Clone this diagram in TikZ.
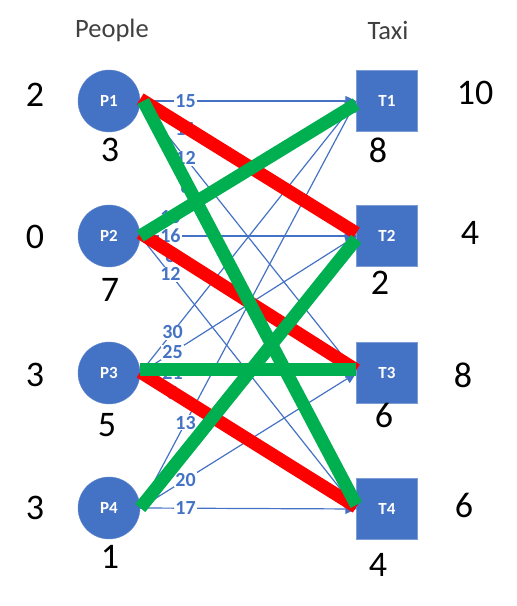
\documentclass[tikz,border=0pt]{standalone}
\usepackage{fontspec}
\setmainfont{Carlito}
\usetikzlibrary{arrows.meta}
\definecolor{taxiBlue}{HTML}{4472C4}
\definecolor{matchRed}{HTML}{FF0000}
\definecolor{matchGreen}{HTML}{00B050}

\begin{document}
\begin{tikzpicture}[x=1pt, y=1pt,
    person/.style={circle, fill=taxiBlue, draw=taxiBlue!80!white, minimum size=62pt, inner sep=0pt, text=white, font=\bfseries\fontsize{17}{17}\selectfont},
    taxi/.style={rectangle, fill=taxiBlue, draw=taxiBlue!70!white, minimum size=61pt, inner sep=0pt, text=white, font=\bfseries\fontsize{17}{17}\selectfont},
    cost/.style={draw=taxiBlue, line width=1.2pt, -{Triangle[length=11pt,width=10pt]}},
    costlabel/.style={fill=white, inner sep=1pt, text=taxiBlue, font=\bfseries\fontsize{20}{20}\selectfont},
    bignum/.style={font=\fontsize{36}{36}\selectfont},
    redpick/.style={draw=matchRed, line width=13pt},
    greenpick/.style={draw=matchGreen, line width=13pt}]
            \useasboundingbox (0,0) rectangle (517,606);
            \node[font=\fontsize{26.5}{26.5}\selectfont, text=black!75] (people) at (112,576) {People};
            \node[font=\fontsize{26.5}{26.5}\selectfont, text=black!75] (taxis) at (388,576) {Taxi};
            \node[person] (P1) at (109,505) {P1};
            \node[person] (P2) at (109,370) {P2};
            \node[person] (P3) at (109,233) {P3};
            \node[person] (P4) at (109,98) {P4};
            \node[taxi] (T1) at (387,505) {T1};
            \node[taxi] (T2) at (387,370) {T2};
            \node[taxi] (T3) at (387,233) {T3};
            \node[taxi] (T4) at (387,97) {T4};
            \draw[cost] (P1.east) -- node[costlabel, pos=0.21] {15} (T1.west);
            \draw[cost] (P1.east) -- node[costlabel, pos=0.21] {11} (T2.west);
            \draw[cost] (P1.east) -- node[costlabel, pos=0.21] {12} (T3.west);
            \draw[cost] (P1.east) -- node[costlabel, pos=0.21] {8} (T4.west);
            \draw[cost] (P2.east) -- node[costlabel, pos=0.14] {10} (T1.west);
            \draw[cost] (P2.east) -- node[costlabel, pos=0.14] {16} (T2.west);
            \draw[cost] (P2.east) -- node[costlabel, pos=0.14] {8} (T3.west);
            \draw[cost] (P2.east) -- node[costlabel, pos=0.14] {12} (T4.west);
            \draw[cost] (P3.east) -- node[costlabel, pos=0.15] {30} (T1.west);
            \draw[cost] (P3.east) -- node[costlabel, pos=0.15] {25} (T2.west);
            \draw[cost] (P3.east) -- node[costlabel, pos=0.15] {21} (T3.west);
            \draw[cost] (P3.east) -- node[costlabel, pos=0.15] {5} (T4.west);
            \draw[cost] (P4.east) -- node[costlabel, pos=0.21] {13} (T1.west);
            \draw[cost] (P4.east) -- node[costlabel, pos=0.21] {9} (T2.west);
            \draw[cost] (P4.east) -- node[costlabel, pos=0.21] {20} (T3.west);
            \draw[cost] (P4.east) -- node[costlabel, pos=0.21] {17} (T4.west);
            \draw[redpick] ([yshift=2pt]P1.east) -- ([yshift=3pt]T2.west);
            \draw[redpick] ([yshift=3pt]P2.east) -- ([yshift=3pt]T3.west);
            \draw[redpick] ([yshift=1pt]P3.east) -- ([yshift=2pt]T4.west);
            \draw[greenpick] ([xshift=3pt]P1.east) -- ([yshift=4pt]T4.west);
            \draw[greenpick] (P2.east) -- ([yshift=-3pt]T1.west);
            \draw[greenpick] ([yshift=3pt]P3.east) -- ([yshift=3pt]T3.west);
            \draw[greenpick] (P4.east) -- ([yshift=-3pt]T2.west);
            \node[bignum] (u1) at (35,511) {2};
            \node[bignum] (u2) at (35,369) {0};
            \node[bignum] (u3) at (35,231) {3};
            \node[bignum] (u4) at (35,98) {3};
            \node[bignum] (p1) at (110,456) {3};
            \node[bignum] (p2) at (110,316) {7};
            \node[bignum] (p3) at (107,181) {5};
            \node[bignum] (p4) at (110,49) {1};
            \node[bignum] (t1) at (378,456) {8};
            \node[bignum] (t2) at (380,323) {2};
            \node[bignum] (t3) at (384,191) {6};
            \node[bignum] (t4) at (378,41) {4};
            \node[bignum] (v1) at (475,513) {10};
            \node[bignum] (v2) at (470,373) {4};
            \node[bignum] (v3) at (463,231) {8};
            \node[bignum] (v4) at (464,101) {6};
        \end{tikzpicture}
\end{document}
